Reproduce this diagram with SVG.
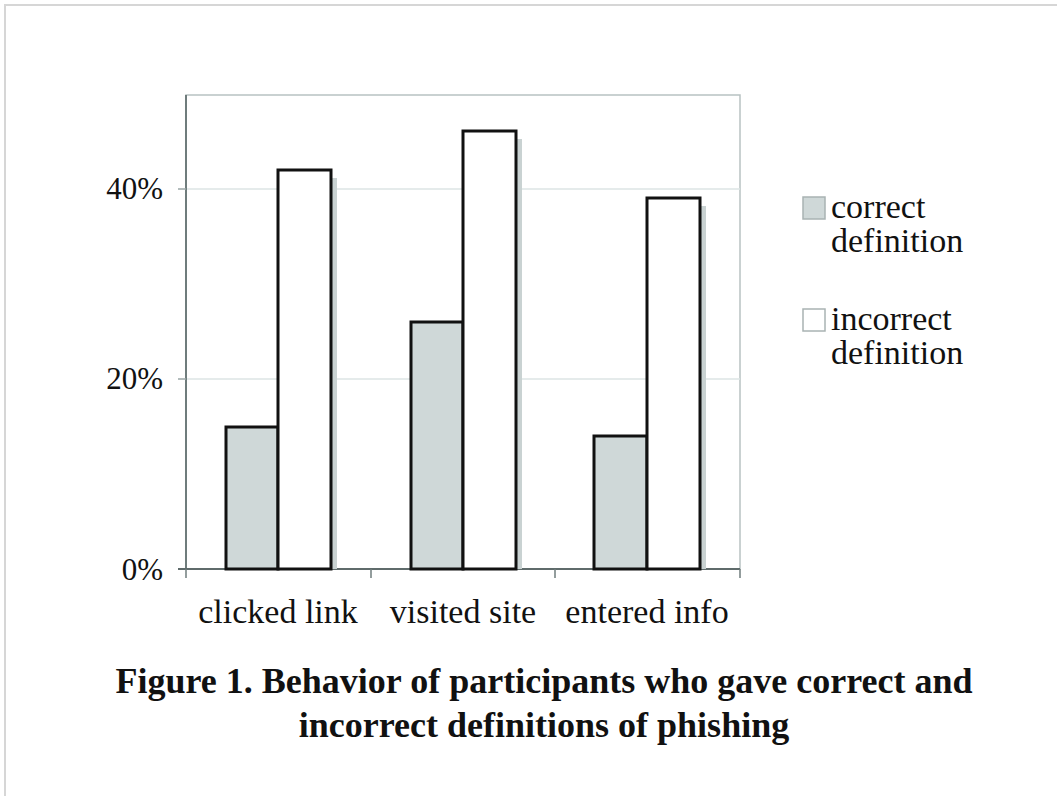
<svg xmlns="http://www.w3.org/2000/svg" width="1057" height="796" viewBox="0 0 1057 796">
<style>
.t{font-family:"Liberation Serif","Times New Roman",serif;fill:#111}
.ax{font-size:34px}
.ay{font-size:31px}
.ttl{font-size:36px;font-weight:bold;text-anchor:middle}
.bar{stroke:#111;stroke-width:3}
.c{fill:#cfd8d8}
.i{fill:#fff}
.sh{fill:#c9d2d2}
.grid{stroke:#dde4e4;stroke-width:1.5}
</style>
<rect width="1057" height="796" fill="#fff"/>
<path d="M5,796 V5 H1057" fill="none" stroke="#d6d6d6" stroke-width="2"/>
<g id="plot">
<rect x="186" y="95" width="554" height="474" fill="none" stroke="#b8c2c2" stroke-width="1.5"/>
<line class="grid" x1="186" y1="189" x2="740" y2="189"/>
<line class="grid" x1="186" y1="379" x2="740" y2="379"/>
<line x1="186" y1="95" x2="186" y2="569" stroke="#6f7c7c" stroke-width="2"/>
<line x1="178" y1="569" x2="740" y2="569" stroke="#5f6b6b" stroke-width="2"/>
<line x1="178" y1="189" x2="186" y2="189" stroke="#9aa6a6" stroke-width="1.5"/>
<line x1="178" y1="379" x2="186" y2="379" stroke="#9aa6a6" stroke-width="1.5"/>
<line x1="186" y1="569" x2="186" y2="578" stroke="#6f7c7c" stroke-width="1.5"/>
<line x1="371" y1="569" x2="371" y2="578" stroke="#6f7c7c" stroke-width="1.5"/>
<line x1="555" y1="569" x2="555" y2="578" stroke="#6f7c7c" stroke-width="1.5"/>
<line x1="740" y1="569" x2="740" y2="578" stroke="#6f7c7c" stroke-width="1.5"/>
</g>
<g id="bars-clicked">
<rect class="sh" x="331" y="178" width="6" height="391"/>
<rect class="bar c" x="226" y="427" width="52" height="142"/>
<rect class="bar i" x="278" y="170" width="53" height="399"/>
</g>
<g id="bars-visited">
<rect class="sh" x="516" y="139" width="6" height="430"/>
<rect class="bar c" x="411" y="322" width="52" height="247"/>
<rect class="bar i" x="463" y="131" width="53" height="438"/>
</g>
<g id="bars-entered">
<rect class="sh" x="700" y="206" width="6" height="363"/>
<rect class="bar c" x="594" y="436" width="53" height="133"/>
<rect class="bar i" x="647" y="198" width="53" height="371"/>
</g>
<g id="y-labels" class="t ay" text-anchor="end">
<text x="163" y="199">40%</text>
<text x="163" y="389">20%</text>
<text x="163" y="580">0%</text>
</g>
<g id="x-labels" class="t ax" text-anchor="middle">
<text x="278" y="623">clicked link</text>
<text x="463" y="623">visited site</text>
<text x="647" y="623">entered info</text>
</g>
<g id="legend" class="t ax">
<rect x="803" y="197" width="22" height="22" fill="#cfd8d8" stroke="#a9b3b3" stroke-width="1.5"/>
<text x="831" y="218">correct</text>
<text x="831" y="252">definition</text>
<rect x="803" y="309" width="22" height="22" fill="#fff" stroke="#a9b3b3" stroke-width="1.5"/>
<text x="831" y="330">incorrect</text>
<text x="831" y="364">definition</text>
</g>
<g id="title" class="t ttl">
<text x="544" y="693">Figure 1. Behavior of participants who gave correct and</text>
<text x="544" y="737">incorrect definitions of phishing</text>
</g>
</svg>
